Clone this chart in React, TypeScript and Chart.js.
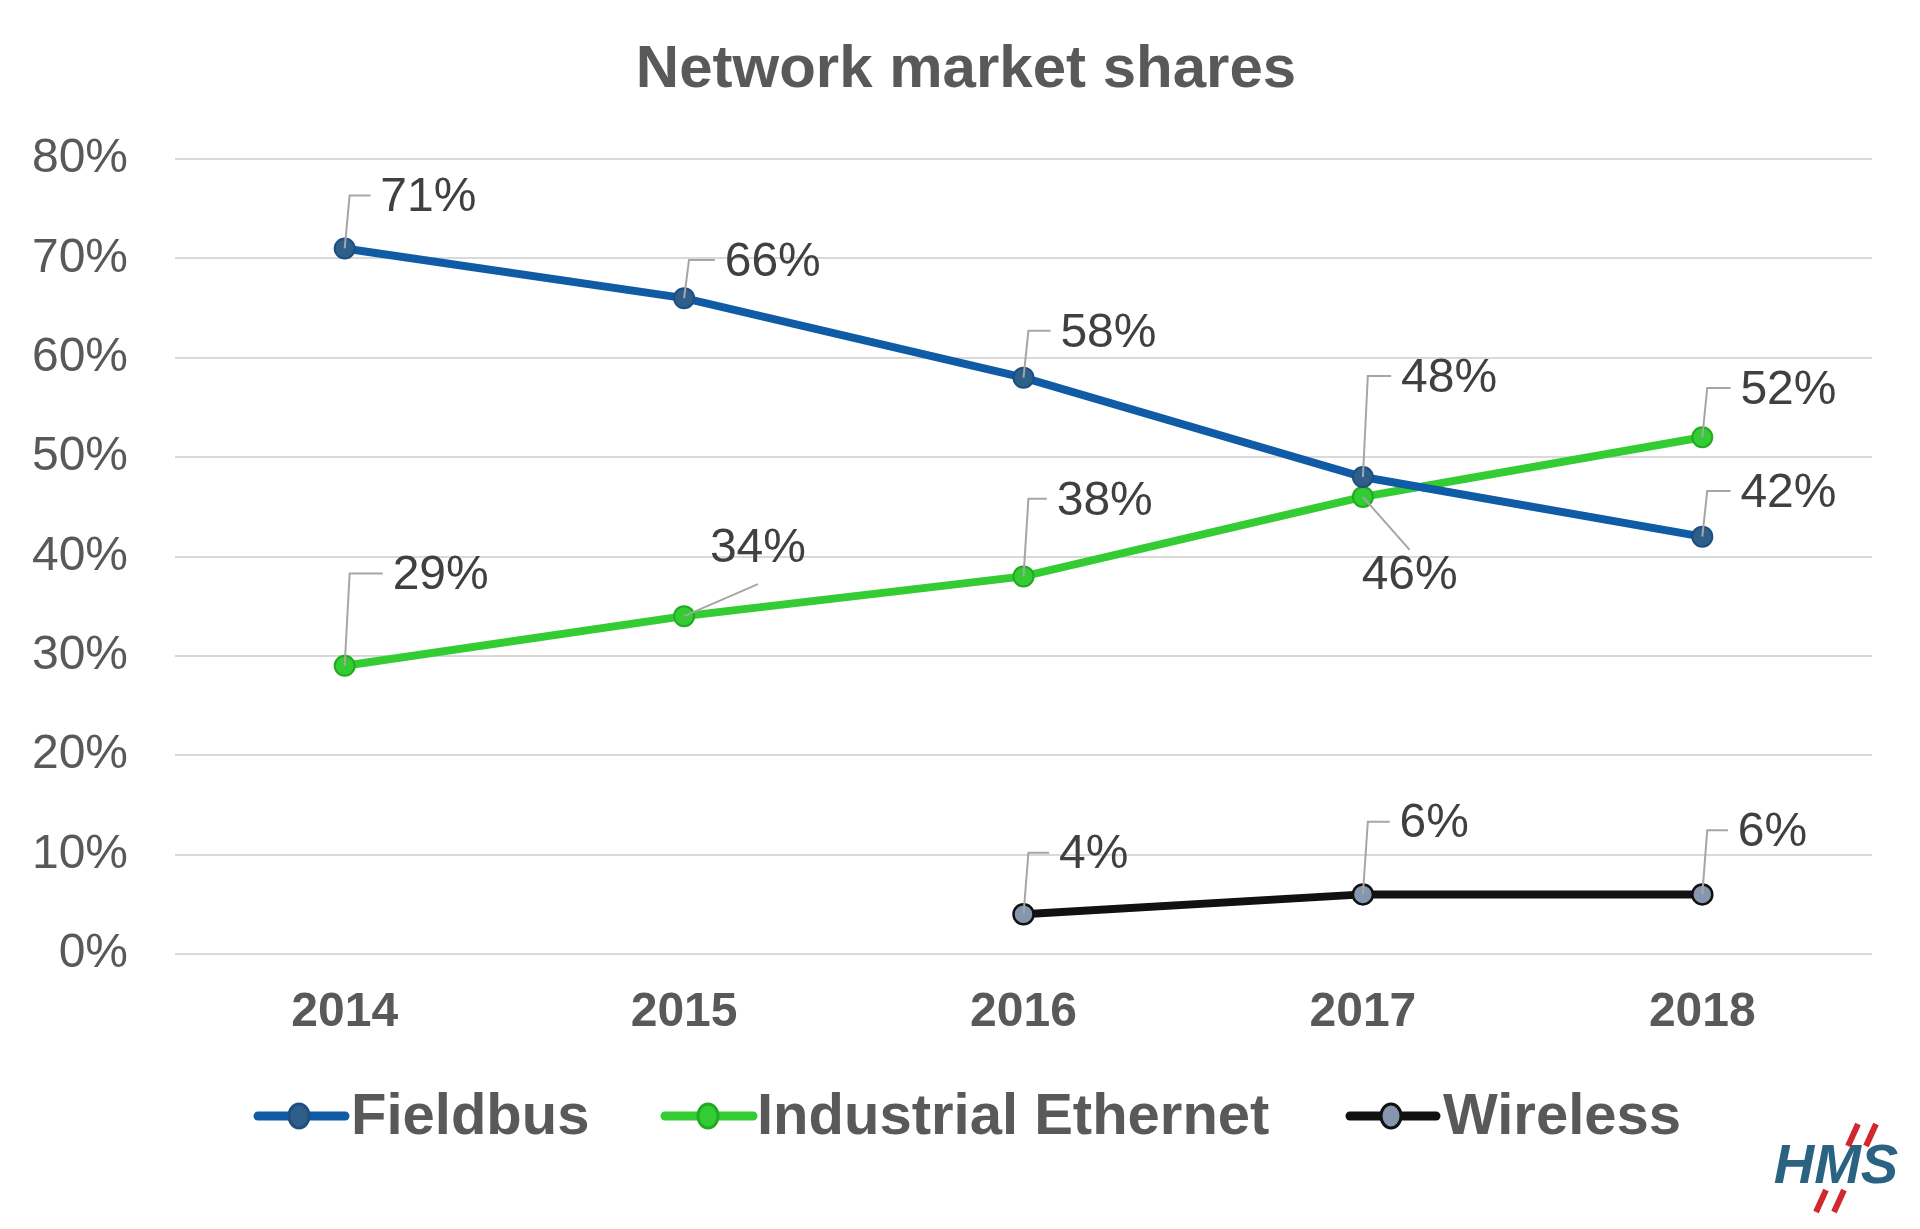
import React, { useEffect, useRef } from "react";
import { Chart, registerables } from "chart.js";
Chart.register(...registerables);

const categories = ["2014", "2015", "2016", "2017", "2018"];
const fieldbus = [71, 66, 58, 48, 42];
const ethernet = [29, 34, 38, 46, 52];
const wireless = [null, null, 4, 6, 6];
const yTicks = [0, 10, 20, 30, 40, 50, 60, 70, 80];

const S = 1.2308;
// label offsets (display units) relative to point, and leader kind
const labelPos: Record<string, { dx: number; dy: number; k: string }[]> = {
  "0": [
    { dx: 68, dy: -41, k: "e" }, { dx: 72, dy: -29, k: "e" }, { dx: 69, dy: -36, k: "e" },
    { dx: 70, dy: -80, k: "e" }, { dx: 70, dy: -35, k: "e" },
  ],
  "1": [
    { dx: 78, dy: -73, k: "e" }, { dx: 60, dy: -55, k: "s1" }, { dx: 66, dy: -61, k: "e" },
    { dx: 38, dy: 64, k: "s2" }, { dx: 70, dy: -38, k: "e" },
  ],
  "2": [
    null as any, null as any, { dx: 57, dy: -48, k: "e" }, { dx: 58, dy: -57, k: "e" }, { dx: 57, dy: -50, k: "e" },
  ],
};

const overlay = {
  id: "overlay",
  afterDatasetsDraw(chart: any) {
    const ctx = chart.ctx;
    ctx.save();
    chart.data.datasets.forEach((ds: any, di: number) => {
      const meta = chart.getDatasetMeta(di);
      meta.data.forEach((pt: any, i: number) => {
        const v = ds.data[i];
        const lp = labelPos[String(di)][i];
        if (v == null || !lp) return;
        const lx = pt.x + lp.dx * S, ly = pt.y + lp.dy * S;
        ctx.font = "48px 'Liberation Sans', Arial, sans-serif";
        const text = v + "%";
        const w = ctx.measureText(text).width;
        ctx.strokeStyle = "#a6a6a6";
        ctx.lineWidth = 2;
        ctx.beginPath();
        const left = lx - w / 2;
        if (lp.k === "e") {
          ctx.moveTo(pt.x, pt.y);
          ctx.lineTo(pt.x + 4 * S, ly - 2 * S);
          ctx.lineTo(left - 8 * S, ly - 2 * S);
        } else if (lp.k === "s1") {
          ctx.moveTo(pt.x, pt.y);
          ctx.lineTo(pt.x + 60 * S, pt.y - 26 * S);
        } else {
          ctx.moveTo(pt.x, pt.y);
          ctx.lineTo(pt.x + 38 * S, pt.y + 43 * S);
        }
        ctx.stroke();
        ctx.fillStyle = "#404040";
        ctx.textAlign = "center";
        ctx.textBaseline = "middle";
        ctx.fillText(text, lx, ly);
      });
    });
    // title
    ctx.fillStyle = "#595959";
    ctx.font = "bold 60px 'Liberation Sans', Arial, sans-serif";
    ctx.textAlign = "center";
    ctx.textBaseline = "middle";
    ctx.fillText("Network market shares", 966, 70);
    // legend
    const items = [
      { l: 258, r: 345, m: 299, t: 351, c: "#0f5ba5", pf: "#2d5f8a", pb: "#1f4f80", txt: "Fieldbus" },
      { l: 665, r: 753, m: 708, t: 757, c: "#33cc33", pf: "#33cc33", pb: "#22aa22", txt: "Industrial Ethernet" },
      { l: 1350, r: 1436, m: 1391, t: 1443, c: "#111111", pf: "#8496b0", pb: "#111111", txt: "Wireless" },
    ];
    const y = 1116;
    items.forEach((it) => {
      ctx.strokeStyle = it.c;
      ctx.lineWidth = 9;
      ctx.lineCap = "round";
      ctx.beginPath();
      ctx.moveTo(it.l, y);
      ctx.lineTo(it.r, y);
      ctx.stroke();
      ctx.fillStyle = it.pf;
      ctx.strokeStyle = it.pb;
      ctx.lineWidth = 3;
      ctx.beginPath();
      ctx.ellipse(it.m, y, 10, 12, 0, 0, Math.PI * 2);
      ctx.fill();
      ctx.stroke();
      ctx.fillStyle = "#595959";
      ctx.font = "bold 58px 'Liberation Sans', Arial, sans-serif";
      ctx.textAlign = "left";
      ctx.fillText(it.txt, it.t, y + 2);
    });
    // HMS logo
    ctx.fillStyle = "#2a6282";
    ctx.font = "italic bold 56px 'Liberation Sans', Arial, sans-serif";
    ctx.textAlign = "center";
    ctx.fillText("HMS", 1836, 1168);
    ctx.strokeStyle = "#d0282e";
    ctx.lineWidth = 6;
    ctx.lineCap = "butt";
    [[1858, 1124, 1848, 1146], [1876, 1124, 1866, 1146], [1826, 1190, 1816, 1212], [1844, 1190, 1834, 1212]].forEach((s) => {
      ctx.beginPath();
      ctx.moveTo(s[0], s[1]);
      ctx.lineTo(s[2], s[3]);
      ctx.stroke();
    });
    ctx.restore();
  },
};

export default function App() {
  const ref = useRef<HTMLCanvasElement>(null);
  useEffect(() => {
    const chart = new Chart(ref.current!, {
      type: "line",
      data: {
        labels: categories,
        datasets: [
          { label: "Fieldbus", data: fieldbus, borderColor: "#0f5ba5", backgroundColor: "#2d5f8a", pointBorderColor: "#1f4f80", borderWidth: 8, pointRadius: 10, pointBorderWidth: 2 },
          { label: "Industrial Ethernet", data: ethernet, borderColor: "#33cc33", backgroundColor: "#33cc33", pointBorderColor: "#22aa22", borderWidth: 8, pointRadius: 10, pointBorderWidth: 2 },
          { label: "Wireless", data: wireless as any, borderColor: "#111111", backgroundColor: "#8496b0", pointBorderColor: "#111111", borderWidth: 8, pointRadius: 10, pointBorderWidth: 2.5 },
        ],
      },
      options: {
        animation: false,
        responsive: false,
        layout: { padding: { top: 159, right: 48, bottom: 175, left: 0 } },
        plugins: { legend: { display: false }, title: { display: false }, tooltip: { enabled: false } },
        scales: {
          x: {
            offset: true,
            grid: { display: false },
            border: { display: false },
            ticks: { color: "#595959", font: { family: "'Liberation Sans', Arial", size: 48, weight: "bold" }, padding: 22 },
            afterFit: (s: any) => { s.height = 100; },
          },
          y: {
            min: 0, max: 80,
            afterBuildTicks: (s: any) => { s.ticks = yTicks.map((v) => ({ value: v })); },
            grid: { color: "#d9d9d9", lineWidth: 2, drawTicks: false },
            border: { display: false },
            ticks: { color: "#595959", font: { family: "'Liberation Sans', Arial", size: 48 }, padding: 47, callback: (v: any) => v + "%" },
            afterFit: (s: any) => { s.width = 175; },
          },
        },
      },
      plugins: [overlay],
    });
    return () => chart.destroy();
  }, []);
  return (
    <div style={{ position: "absolute", left: 0, top: 0, width: 1920, height: 1229, background: "#fff" }}>
      <canvas ref={ref} width={1920} height={1229} />
    </div>
  );
}
